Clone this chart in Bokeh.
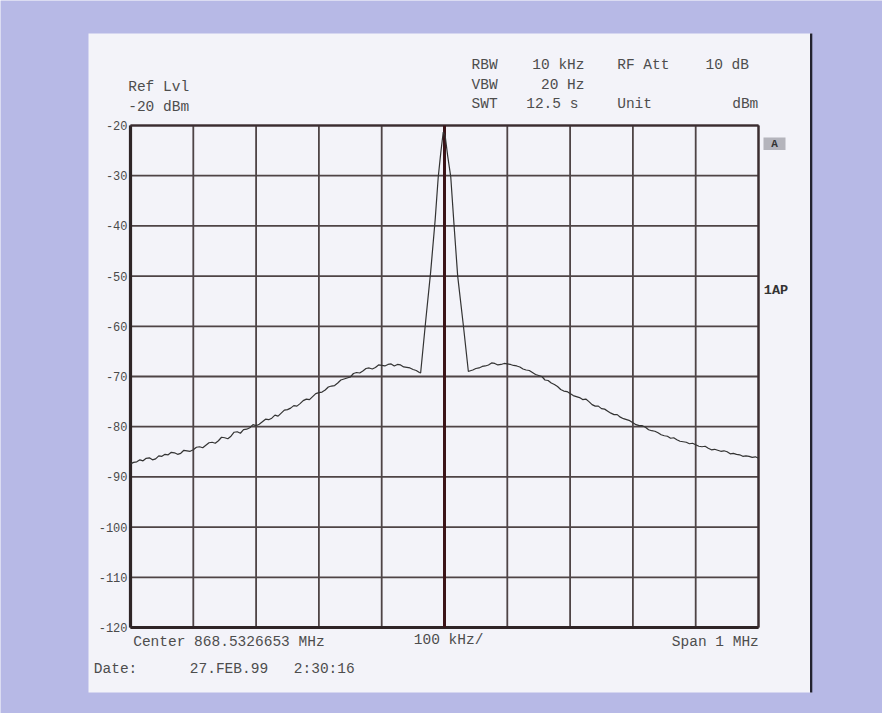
from bokeh.plotting import figure
from bokeh.models import Range1d, Label, BoxAnnotation
from bokeh.core.properties import value
from bokeh.embed import file_html
from bokeh.resources import INLINE

# ---- data (offset from centre frequency, kHz ; level, dBm) ----
left_khz = list(range(-500, -35, 5))          # -500 ... -40
left_dbm = [
    -87.4, -87.1, -87.0, -86.6, -86.8, -86.3, -86.2, -86.6, -86.4, -85.8,
    -85.9, -85.5, -85.6, -85.1, -85.2, -85.5, -85.3, -84.7, -84.8, -84.9,
    -84.6, -84.1, -84.0, -84.2, -83.7, -83.2, -83.1, -83.3, -82.8, -82.1,
    -82.2, -82.4, -81.9, -81.1, -81.0, -81.3, -80.6, -80.5, -80.2, -79.6,
    -79.8, -79.5, -79.0, -78.5, -78.6, -78.3, -77.7, -77.9, -77.3, -76.7,
    -76.6, -76.3, -75.8, -75.9, -75.4, -74.8, -74.5, -74.6, -74.0, -73.4,
    -73.2, -73.1, -72.7, -72.1, -71.9, -71.8, -71.3, -70.7, -70.5, -70.3,
    -70.1, -69.4, -69.2, -69.3, -68.9, -68.4, -68.3, -68.5, -68.2, -67.7,
    -67.8, -67.9, -67.6, -67.5, -67.9, -67.6, -67.7, -68.1, -68.2, -68.3,
    -68.6, -68.8, -69.2,
]
peak_khz = [-38, -30, -22, -15, -10, -6, -2, 1, 5, 10, 15, 21, 30, 38]
peak_dbm = [-69.3, -59.0, -49.1, -39.0, -30.3, -25.5, -21.3,
            -22.0, -26.0, -30.3, -39.5, -50.0, -59.8, -69.0]
right_khz = list(range(40, 505, 5))           # 40 ... 500
right_dbm = [
    -68.9, -68.7, -68.4, -68.3, -68.0, -67.9, -67.7, -67.3, -67.4, -67.7,
    -67.6, -67.4, -67.5, -67.6, -67.8, -67.9, -68.1, -68.5, -68.7, -68.8,
    -69.2, -69.6, -69.8, -70.0, -70.7, -70.8, -71.3, -71.6, -72.0, -72.6,
    -72.9, -73.0, -73.4, -73.8, -74.0, -74.2, -74.6, -74.5, -75.0, -75.6,
    -75.9, -75.9, -76.4, -76.5, -76.9, -77.3, -77.6, -77.6, -78.1, -78.4,
    -78.6, -78.8, -79.2, -79.6, -79.8, -79.8, -80.1, -80.6, -80.8, -80.9,
    -81.2, -81.6, -81.8, -81.9, -82.3, -82.2, -82.6, -82.9, -83.0, -83.1,
    -83.4, -83.3, -83.6, -83.9, -84.0, -83.9, -84.3, -84.6, -84.5, -84.7,
    -84.9, -84.8, -85.0, -85.4, -85.3, -85.5, -85.6, -85.9, -85.8, -85.9,
    -86.1, -86.0, -86.3,
]
freq_khz = left_khz + peak_khz + right_khz
level_dbm = left_dbm + peak_dbm + right_dbm

x_ticks = [-500, -400, -300, -200, -100, 0, 100, 200, 300, 400, 500]
y_ticks = [-20, -30, -40, -50, -60, -70, -80, -90, -100, -110, -120]
y_tick_labels = ["-20", "-30", "-40", "-50", "-60", "-70", "-80", "-90", "-100", "-110", "-120"]

header_left = ["Ref Lvl", "-20 dBm"]
header_keys = ["RBW", "VBW", "SWT"]
header_vals = ["10 kHz", "20 Hz", "12.5 s"]

# ---- layout: where the graticule sits on the 882x713 canvas (pixels) ----
W, H = 882, 713
FX0, FX1, FY0, FY1 = 130.0, 758.0, 125.0, 627.0
XMIN, XMAX = x_ticks[0], x_ticks[-1]
YTOP, YBOT = y_ticks[0], y_ticks[-1]
kx = (FX1 - FX0) / (XMAX - XMIN)          # px per kHz
ky = (FY1 - FY0) / (YTOP - YBOT)          # px per dB
x_range = Range1d(XMIN - FX0 / kx, XMAX + (W - FX1) / kx)
y_range = Range1d(YBOT - (H - FY1) / ky, YTOP + FY0 / ky)

PAPER = "#f3f3f9"
LAV = "#b7b9e6"
GRID = "#4e4446"
DARK = "#2e2426"

p = figure(width=W, height=H, output_backend="svg", toolbar_location=None,
           x_range=x_range, y_range=y_range,
           x_axis_location=None, y_axis_location=None,
           min_border=0, min_border_left=0, min_border_right=0,
           min_border_top=0, min_border_bottom=0)
p.outline_line_color = None
p.background_fill_color = LAV
p.border_fill_color = LAV
for g in p.grid:
    g.visible = False

CU = dict(left_units="canvas", right_units="canvas", top_units="canvas", bottom_units="canvas")
def box(l, r, t, b, color, level="annotation"):
    p.add_layout(BoxAnnotation(left=l, right=r, top=t, bottom=b, **CU, level=level,
                               fill_color=color, fill_alpha=1.0, line_color=None))

# paper sheet and its right shadow
box(88, 811, 33, 692, PAPER, level="image")
box(809.5, 811.8, 33, 692, "#23232f", level="image")

# graticule (from tick lists, through the plot scales)
n_x, n_y = len(x_ticks), len(y_ticks)
p.segment(x0=x_ticks, y0=[YBOT] * n_x, x1=x_ticks, y1=[YTOP] * n_x,
          line_color=GRID, line_width=1.8)
p.segment(x0=[XMIN] * n_y, y0=y_ticks, x1=[XMAX] * n_y, y1=y_ticks,
          line_color=GRID, line_width=1.8)
# frame edges: heavy left and bottom, lighter top and right
p.segment(x0=[XMIN, XMIN], y0=[YBOT, YBOT], x1=[XMIN, XMAX], y1=[YTOP, YBOT],
          line_color=DARK, line_width=3.2)
p.segment(x0=[XMIN, XMAX], y0=[YTOP, YBOT], x1=[XMAX, XMAX], y1=[YTOP, YTOP],
          line_color="#3a2c30", line_width=2.2)
# centre-frequency line
center = (XMIN + XMAX) / 2
p.segment(x0=[center], y0=[YBOT], x1=[center], y1=[YTOP], line_color="#3b1418", line_width=3)

# trace
p.line(freq_khz, level_dbm, line_color="#333333", line_width=1.2)

# y tick labels
p.text(x=[XMIN] * n_y, y=y_ticks, text=y_tick_labels, x_offset=-3,
       text_align="right", text_baseline="middle",
       text_font=value("Liberation Mono"), text_font_size=value("12px"),
       text_color="#4a4a4a")

# header / footer texts
TF = "Liberation Mono"
TC = "#4d4d4d"
def lab(text, px, py, align="left", size="14.5px", color=TC, style="normal"):
    p.add_layout(Label(x=px, y=py, x_units="canvas", y_units="canvas", text=text,
                       text_font=TF, text_font_size=size, text_color=color,
                       text_align=align, text_baseline="middle", text_font_style=style))

lab(header_left[0], 127.7, 86.7)
lab(header_left[1], 127.7, 106.0)
lab(header_keys[0], 471, 64.0)
lab(header_keys[1], 471, 84.3)
lab(header_keys[2], 471, 103.3)
lab(header_vals[0], 584, 64.0, align="right")
lab(header_vals[1], 584, 84.3, align="right")
lab(header_vals[2], 525.7, 103.3)
lab("RF Att", 616.7, 64.0)
lab("10 dB", 705, 64.0)
lab("Unit", 616.7, 103.3)
lab("dBm", 731.7, 103.3)
lab("Center 868.5326653 MHz", 132.7, 641.7)
lab("100 kHz/", 413.3, 639.3)
lab("Span 1 MHz", 758.3, 641.0, align="right")
lab("Date:", 93.3, 668.3)
lab("27.FEB.99", 189.3, 668.3)
lab("2:30:16", 293.3, 668.3)

# trace marker box "A" and "1AP"
box(763, 785, 137, 149.5, "#b4b4bc")
lab("A", 774, 143.3, align="center", size="11px", color="#333333", style="bold")
lab("1AP", 763.3, 290, size="13.5px", color="#333333", style="bold")

open("out.html", "w").write(file_html(p, INLINE))
